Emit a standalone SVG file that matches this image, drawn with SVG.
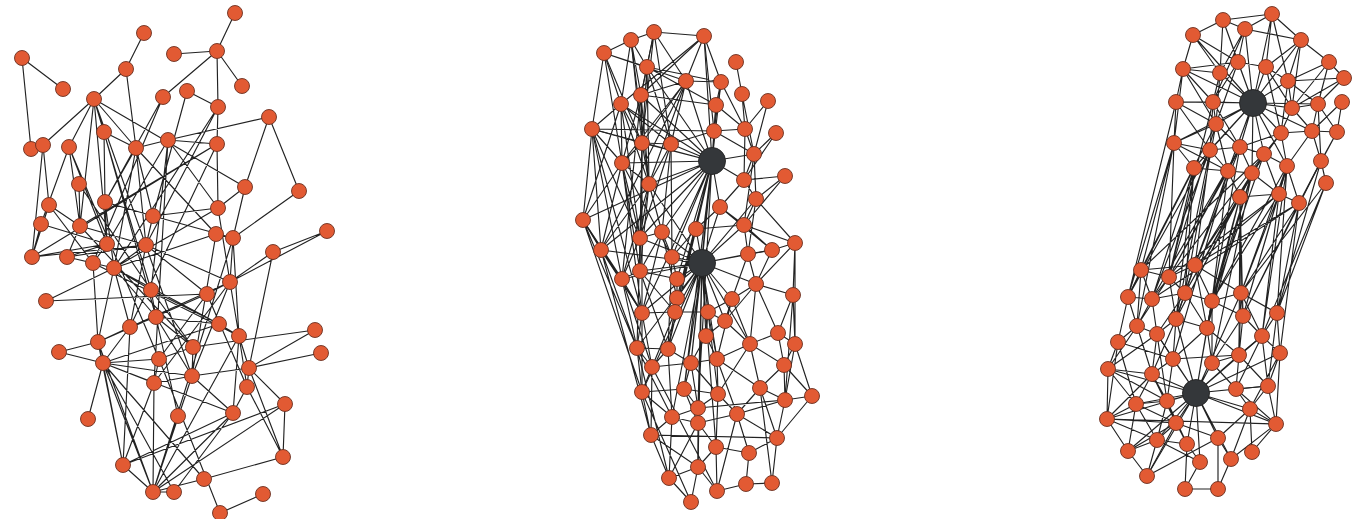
<svg xmlns="http://www.w3.org/2000/svg" width="1354" height="519" viewBox="0 0 1354 519">
<style>
.e{fill:none;stroke:#222;stroke-width:1.15;stroke-linecap:round}
.n circle{fill:#e25a33;stroke:#6b3020;stroke-width:0.9}
.h circle{fill:#34373a;stroke:#222;stroke-width:0.9}
</style>
<rect width="1354" height="519" fill="#fff"/>
<g id="connectors">
<path class="e" d="M235,13L217,51M174,54L217,51M217,51L242,86M217,51L218,107M217,51L163,97M144,33L126,69M126,69L94,99M126,69L136,148M22,58L63,89M22,58L31,149M94,99L43,145M94,99L69,147M94,99L104,132M94,99L136,148M94,99L245,187M94,99L80,226M94,99L107,244M94,99L192,376M94,99L151,290M187,91L218,107M187,91L153,216M163,97L105,202M163,97L93,263M218,107L217,144M218,107L146,245M218,107L114,268M269,117L168,140M269,117L299,191M269,117L245,187M168,140L217,144M168,140L136,148M168,140L218,208M168,140L107,244M168,140L151,290M168,140L154,383M104,132L136,148M104,132L105,202M104,132L156,317M43,145L32,257M43,145L49,205M31,149L43,145M69,147L80,226M69,147L107,244M69,147L159,359M69,147L41,224M136,148L105,202M136,148L153,216M136,148L216,234M136,148L114,268M136,148L146,245M217,144L218,208M217,144L80,226M217,144L32,257M217,144L130,327M79,184L80,226M79,184L151,290M245,187L218,208M245,187L233,238M299,191L233,238M49,205L80,226M49,205L93,263M49,205L32,257M105,202L153,216M105,202L107,244M105,202L114,268M218,208L153,216M218,208L114,268M218,208L230,282M153,216L233,238M153,216L146,245M41,224L32,257M41,224L107,244M80,226L67,257M80,226L146,245M80,226L193,347M327,231L273,252M327,231L230,282M216,234L233,238M216,234L114,268M216,234L192,376M233,238L230,282M233,238L239,336M233,238L153,492M107,244L32,257M107,244L67,257M107,244L93,263M146,245L32,257M146,245L67,257M146,245L114,268M146,245L207,294M146,245L230,282M146,245L130,327M273,252L230,282M273,252L249,368M67,257L93,263M67,257L114,268M93,263L98,342M93,263L239,336M114,268L151,290M114,268L98,342M114,268L130,327M114,268L156,317M114,268L219,324M114,268L46,301M230,282L207,294M230,282L239,336M230,282L130,327M230,282L154,383M230,282L192,376M151,290L156,317M151,290L219,324M151,290L193,347M207,294L46,301M207,294L98,342M207,294L159,359M207,294L247,387M156,317L130,327M156,317L193,347M156,317L178,416M156,317L192,376M156,317L219,324M130,327L98,342M130,327L103,363M130,327L123,465M219,324L239,336M219,324L103,363M239,336L249,368M239,336L247,387M239,336L233,413M239,336L153,492M315,330L249,368M315,330L193,347M98,342L59,352M98,342L103,363M98,342L123,465M98,342L153,492M193,347L192,376M193,347L159,359M321,353L249,368M59,352L103,363M103,363L159,359M103,363L192,376M103,363L154,383M103,363L233,413M103,363L123,465M103,363L153,492M103,363L174,492M103,363L204,479M103,363L88,419M159,359L154,383M249,368L192,376M249,368L247,387M249,368L285,404M249,368L283,457M192,376L154,383M192,376L233,413M192,376L153,492M154,383L123,465M154,383L153,492M247,387L283,457M285,404L283,457M285,404L123,465M178,416L153,492M233,413L153,492M233,413L174,492M283,457L204,479M123,465L153,492M123,465L233,413M204,479L153,492M153,492L174,492M153,492L285,404M263,494L220,513M220,513L159,359M247,387L233,413"/>
<path class="e" d="M631,40L654,32M654,32L704,36M631,40L604,53M631,40L647,67M631,40L642,143M631,40L641,95M654,32L686,81M654,32L647,67M654,32L671,144M704,36L686,81M704,36L721,82M704,36L714,131M704,36L621,104M604,53L621,104M604,53L686,81M604,53L647,67M647,67L641,95M647,67L716,105M647,67L671,144M647,67L721,82M736,62L742,94M686,81L721,82M686,81L641,95M686,81L642,143M686,81L622,163M686,81L601,250M721,82L745,129M721,82L716,105M641,95L716,105M641,95L642,143M641,95L649,184M641,95L622,279M742,94L745,129M742,94L754,154M621,104L592,129M621,104L622,163M621,104L642,143M621,104L671,144M621,104L640,238M621,104L583,220M768,101L754,154M592,129L714,131M592,129L622,163M592,129L583,220M592,129L642,143M592,129L601,250M714,131L745,129M714,131L716,105M745,129L754,154M745,129L744,180M776,133L754,154M642,143L671,144M642,143L622,163M642,143L649,184M642,143L640,271M642,143L642,313M671,144L714,131M671,144L649,184M671,144L640,238M671,144L672,257M754,154L744,180M754,154L756,199M754,154L744,225M622,163L649,184M622,163L583,220M622,163L601,250M622,163L640,238M744,180L785,176M744,180L756,199M744,180L720,207M785,176L744,225M649,184L662,232M649,184L601,250M649,184L640,238M756,199L744,225M756,199L795,243M756,199L748,254M720,207L744,225M720,207L696,229M720,207L772,250M583,220L601,250M583,220L622,279M583,220L637,348M744,225L795,243M744,225L748,254M744,225L772,250M795,243L772,250M795,243L756,284M795,243L793,295M640,238L662,232M640,238L622,279M640,238L640,271M662,232L672,257M662,232L640,271M696,229L672,257M601,250L622,279M601,250L637,348M601,250L642,313M748,254L772,250M748,254L756,284M748,254L732,299M772,250L756,284M672,257L677,279M622,279L640,271M622,279L642,313M622,279L637,348M640,271L677,279M640,271L675,312M677,279L677,298M756,284L732,299M756,284L793,295M756,284L778,333M756,284L750,344M793,295L778,333M793,295L795,344M677,298L675,312M677,298L668,349M732,299L725,321M732,299L750,344M732,299L717,359M642,313L675,312M642,313L637,348M642,313L652,367M675,312L708,312M675,312L668,349M708,312L725,321M708,312L706,336M725,321L706,336M725,321L750,344M778,333L795,344M778,333L784,365M706,336L691,363M706,336L717,359M750,344L784,365M750,344L760,388M750,344L717,359M795,344L784,365M795,344L812,396M637,348L668,349M637,348L652,367M637,348L642,392M668,349L691,363M668,349L652,367M691,363L717,359M691,363L684,389M691,363L718,394M717,359L718,394M717,359L737,414M652,367L642,392M652,367L691,363M784,365L785,400M784,365L812,396M642,392L684,389M642,392L672,417M642,392L651,435M684,389L698,408M684,389L718,394M718,394L698,408M718,394L737,414M760,388L785,400M760,388L737,414M812,396L785,400M785,400L777,438M785,400L698,408M698,408L672,417M698,408L698,423M672,417L698,423M672,417L651,435M698,423L737,414M698,423L716,447M737,414L777,438M737,414L749,453M651,435L777,438M651,435L698,467M651,435L669,478M777,438L749,453M777,438L772,483M716,447L698,467M716,447L717,491M749,453L746,484M698,467L669,478M698,467L691,502M669,478L691,502M717,491L746,484M672,417L669,478M698,423L698,467M604,53L622,163M592,129L642,313M583,220L642,392M601,250L651,435M637,348L669,478M642,392L691,502M812,396L777,438M760,388L772,483M652,367L717,491M793,295L785,400M795,243L795,344"/>
<path class="e" d="M631,40L649,184M604,53L642,143M647,67L649,184M654,32L641,95M621,104L649,184M592,129L640,238M592,129L622,279M622,163L642,313M622,163L640,271M642,143L640,238M641,95L622,163M647,67L642,143M686,81L649,184M604,53L592,129M649,184L622,279M583,220L642,313M640,238L637,348M662,232L642,313M622,279L652,367M642,313L642,392M637,348L672,417M652,367L651,435M640,271L668,349M662,232L677,298M672,257L668,349M671,144L662,232M768,101L745,129M776,133L744,180M785,176L756,199M716,105L745,129M714,131L754,154M696,229L744,225M732,299L708,312M756,284L725,321M750,344L718,394M717,359L760,388M784,365L760,388M785,400L737,414M760,388L777,438M749,453L716,447M746,484L772,483M717,491L698,467M778,333L750,344M795,344L785,400M631,40L621,104M654,32L642,143M704,36L641,95M686,81L671,144M721,82L714,131M622,163L672,257M649,184L640,271M668,349L672,417M691,363L698,408M684,389L698,423M718,394L716,447M737,414L717,491M698,423L669,478M675,312L652,367M708,312L717,359"/>
<path class="e" d="M712,161L704,36M712,161L686,81M712,161L721,82M712,161L716,105M712,161L714,131M712,161L642,143M712,161L671,144M712,161L622,163M712,161L649,184M712,161L720,207M712,161L696,229M712,161L672,257M712,161L592,129M712,161L621,104M712,161L641,95M712,161L677,279M712,161L677,298M712,161L675,312M712,161L668,349M712,161L691,363M712,161L744,180M712,161L754,154M712,161L702,263M712,161L640,238M712,161L662,232M712,161L642,313M712,161L684,389M712,161L698,408M712,161L647,67M712,161L583,220M712,161L601,250M702,263L640,238M702,263L662,232M702,263L696,229M702,263L672,257M702,263L622,279M702,263L640,271M702,263L677,279M702,263L677,298M702,263L732,299M702,263L642,313M702,263L675,312M702,263L708,312M702,263L725,321M702,263L706,336M702,263L668,349M702,263L691,363M702,263L717,359M702,263L684,389M702,263L718,394M702,263L698,408M702,263L698,423M702,263L642,392M702,263L748,254M702,263L772,250M702,263L756,284M702,263L720,207M702,263L744,225M702,263L649,184M702,263L601,250M702,263L716,447M702,263L698,467M702,263L672,417M702,263L756,199M702,263L637,348M702,263L750,344"/>
<path class="e" d="M1223,20L1272,14M1223,20L1245,29M1223,20L1193,35M1223,20L1220,73M1223,20L1238,62M1223,20L1253,103M1272,14L1245,29M1272,14L1301,40M1272,14L1266,67M1272,14L1253,103M1272,14L1288,81M1245,29L1238,62M1245,29L1301,40M1245,29L1253,103M1245,29L1220,73M1245,29L1213,102M1193,35L1238,62M1193,35L1220,73M1193,35L1183,69M1301,40L1329,62M1301,40L1288,81M1301,40L1292,108M1301,40L1266,67M1329,62L1344,78M1329,62L1288,81M1329,62L1318,104M1238,62L1266,67M1238,62L1253,103M1238,62L1183,69M1238,62L1213,102M1238,62L1216,124M1266,67L1253,103M1266,67L1288,81M1266,67L1292,108M1183,69L1220,73M1183,69L1176,102M1183,69L1213,102M1183,69L1253,103M1220,73L1213,102M1220,73L1253,103M1220,73L1216,124M1344,78L1288,81M1344,78L1292,108M1288,81L1253,103M1288,81L1292,108M1288,81L1281,133M1176,102L1213,102M1176,102L1174,143M1176,102L1216,124M1176,102L1253,103M1213,102L1253,103M1213,102L1216,124M1213,102L1210,150M1213,102L1240,147M1292,108L1253,103M1292,108L1318,104M1292,108L1281,133M1318,104L1312,131M1318,104L1321,161M1342,102L1337,132M1216,124L1253,103M1216,124L1174,143M1216,124L1240,147M1216,124L1228,171M1281,133L1253,103M1281,133L1312,131M1281,133L1264,154M1281,133L1287,166M1312,131L1337,132M1312,131L1321,161M1312,131L1287,166M1337,132L1321,161M1337,132L1299,203M1174,143L1210,150M1174,143L1194,168M1210,150L1240,147M1210,150L1253,103M1210,150L1228,171M1240,147L1253,103M1240,147L1264,154M1240,147L1252,173M1264,154L1253,103M1264,154L1287,166M1264,154L1252,173M1321,161L1326,183M1321,161L1299,203M1287,166L1279,194M1287,166L1299,203M1194,168L1228,171M1194,168L1253,103M1228,171L1252,173M1228,171L1253,103M1252,173L1253,103M1252,173L1240,197M1252,173L1279,194M1240,197L1279,194M1279,194L1299,203M1253,103L1174,143M1253,103L1287,166M1253,103L1318,104M1253,103L1312,131M1183,69L1216,124M1183,69L1174,143M1176,102L1210,150M1193,35L1253,103M1301,40L1253,103M1329,62L1292,108M1344,78L1318,104M1318,104L1337,132M1342,102L1312,131M1281,133L1240,147M1281,133L1252,173M1264,154L1279,194M1228,171L1240,197M1240,147L1228,171M1174,143L1228,171M1292,108L1312,131M1266,67L1281,133M1288,81L1318,104"/>
<path class="e" d="M1174,143L1141,270M1174,143L1169,277M1210,150L1195,265M1210,150L1128,297M1194,168L1141,270M1194,168L1152,299M1194,168L1169,277M1228,171L1185,293M1228,171L1169,277M1228,171L1212,301M1252,173L1195,265M1252,173L1185,293M1252,173L1176,319M1240,197L1212,301M1240,197L1241,293M1240,197L1207,328M1240,197L1195,265M1279,194L1241,293M1279,194L1243,316M1279,194L1169,277M1299,203L1277,313M1299,203L1152,299M1299,203L1195,265M1264,154L1185,293M1264,154L1212,301M1264,154L1141,270M1240,147L1195,265M1240,147L1152,299M1240,147L1207,328M1216,124L1141,270M1216,124L1185,293M1213,102L1169,277M1287,166L1241,293M1287,166L1243,316M1287,166L1262,336M1326,183L1241,293M1326,183L1277,313M1210,150L1176,319M1228,171L1173,359M1252,173L1212,363M1240,197L1239,355M1279,194L1262,336M1299,203L1280,353M1252,173L1207,328M1240,147L1212,301M1194,168L1128,297M1321,161L1277,313M1176,102L1128,297M1174,143L1128,297M1174,143L1137,326M1210,150L1152,299M1194,168L1185,293M1194,168L1176,319M1228,171L1195,265M1228,171L1176,319M1252,173L1212,301M1240,197L1243,316M1240,197L1176,319M1279,194L1195,265M1279,194L1212,301M1299,203L1241,293M1299,203L1243,316M1264,154L1169,277M1240,147L1169,277M1216,124L1169,277M1321,161L1243,316M1287,166L1277,313M1287,166L1212,301M1326,183L1262,336"/>
<path class="e" d="M1141,270L1169,277M1141,270L1195,265M1141,270L1128,297M1141,270L1152,299M1169,277L1195,265M1169,277L1185,293M1195,265L1185,293M1195,265L1212,301M1128,297L1152,299M1128,297L1137,326M1128,297L1118,342M1152,299L1185,293M1152,299L1137,326M1152,299L1157,334M1185,293L1212,301M1185,293L1176,319M1212,301L1241,293M1212,301L1207,328M1241,293L1277,313M1241,293L1243,316M1277,313L1262,336M1277,313L1280,353M1243,316L1262,336M1243,316L1239,355M1176,319L1157,334M1176,319L1207,328M1176,319L1173,359M1137,326L1157,334M1137,326L1118,342M1157,334L1173,359M1157,334L1152,374M1207,328L1212,363M1207,328L1239,355M1262,336L1280,353M1262,336L1236,389M1118,342L1108,369M1118,342L1173,359M1118,342L1136,404M1280,353L1268,386M1280,353L1276,424M1173,359L1152,374M1173,359L1239,355M1239,355L1212,363M1239,355L1236,389M1108,369L1152,374M1108,369L1136,404M1108,369L1107,419M1152,374L1136,404M1152,374L1167,401M1236,389L1268,386M1236,389L1250,409M1268,386L1276,424M1268,386L1250,409M1136,404L1167,401M1136,404L1107,419M1136,404L1157,440M1136,404L1128,451M1167,401L1176,423M1250,409L1276,424M1250,409L1218,438M1107,419L1128,451M1107,419L1176,423M1107,419L1276,424M1176,423L1218,438M1176,423L1187,444M1218,438L1231,459M1157,440L1128,451M1157,440L1147,476M1187,444L1200,462M1187,444L1185,489M1128,451L1147,476M1252,452L1276,424M1185,489L1218,489M1231,459L1218,489M1167,401L1157,440M1137,326L1108,369M1152,374L1107,419M1118,342L1107,419M1169,277L1137,326M1195,265L1207,328M1241,293L1262,336M1250,409L1252,452M1157,334L1167,401M1176,423L1128,451M1157,440L1187,444M1147,476L1218,438M1141,270L1137,326M1169,277L1176,319M1169,277L1152,299M1195,265L1241,293M1185,293L1207,328M1185,293L1157,334M1212,301L1243,316M1212,301L1212,363M1241,293L1239,355M1277,313L1268,386M1243,316L1212,363M1176,319L1152,374M1137,326L1152,374M1157,334L1108,369M1207,328L1173,359M1262,336L1268,386M1262,336L1239,355M1280,353L1250,409M1173,359L1167,401M1239,355L1268,386M1212,363L1236,389M1108,369L1167,401M1152,374L1176,423M1236,389L1276,424M1136,404L1176,423M1167,401L1187,444M1250,409L1231,459M1176,423L1157,440M1276,424L1231,459M1218,438L1218,489M1157,440L1200,462M1200,462L1185,489M1176,423L1147,476M1107,419L1157,440"/>
<path class="e" d="M1196,393L1173,359M1196,393L1239,355M1196,393L1236,389M1196,393L1268,386M1196,393L1167,401M1196,393L1250,409M1196,393L1176,423M1196,393L1218,438M1196,393L1187,444M1196,393L1200,462M1196,393L1136,404M1196,393L1207,328M1196,393L1212,363M1196,393L1157,334M1196,393L1176,319M1196,393L1107,419M1196,393L1157,440M1196,393L1231,459M1196,393L1276,424M1196,393L1152,374M1196,393L1108,369M1196,393L1128,451M1196,393L1147,476M1196,393L1262,336M1196,393L1280,353M1196,393L1241,293M1196,393L1212,301"/>
</g>
<g id="graph-left">
<g id="L1" class="n"><circle cx="235" cy="13" r="7.5"/></g>
<g id="L2" class="n"><circle cx="144" cy="33" r="7.5"/></g>
<g id="L3" class="n"><circle cx="22" cy="58" r="7.5"/></g>
<g id="L4" class="n"><circle cx="174" cy="54" r="7.5"/></g>
<g id="L5" class="n"><circle cx="217" cy="51" r="7.5"/></g>
<g id="L6" class="n"><circle cx="126" cy="69" r="7.5"/></g>
<g id="L7" class="n"><circle cx="63" cy="89" r="7.5"/></g>
<g id="L8" class="n"><circle cx="242" cy="86" r="7.5"/></g>
<g id="L9" class="n"><circle cx="94" cy="99" r="7.5"/></g>
<g id="L10" class="n"><circle cx="163" cy="97" r="7.5"/></g>
<g id="L11" class="n"><circle cx="187" cy="91" r="7.5"/></g>
<g id="L12" class="n"><circle cx="218" cy="107" r="7.5"/></g>
<g id="L13" class="n"><circle cx="269" cy="117" r="7.5"/></g>
<g id="L14" class="n"><circle cx="104" cy="132" r="7.5"/></g>
<g id="L15" class="n"><circle cx="31" cy="149" r="7.5"/></g>
<g id="L16" class="n"><circle cx="43" cy="145" r="7.5"/></g>
<g id="L17" class="n"><circle cx="69" cy="147" r="7.5"/></g>
<g id="L18" class="n"><circle cx="136" cy="148" r="7.5"/></g>
<g id="L19" class="n"><circle cx="168" cy="140" r="7.5"/></g>
<g id="L20" class="n"><circle cx="217" cy="144" r="7.5"/></g>
<g id="L21" class="n"><circle cx="79" cy="184" r="7.5"/></g>
<g id="L22" class="n"><circle cx="245" cy="187" r="7.5"/></g>
<g id="L23" class="n"><circle cx="299" cy="191" r="7.5"/></g>
<g id="L24" class="n"><circle cx="49" cy="205" r="7.5"/></g>
<g id="L25" class="n"><circle cx="105" cy="202" r="7.5"/></g>
<g id="L26" class="n"><circle cx="218" cy="208" r="7.5"/></g>
<g id="L27" class="n"><circle cx="153" cy="216" r="7.5"/></g>
<g id="L28" class="n"><circle cx="41" cy="224" r="7.5"/></g>
<g id="L29" class="n"><circle cx="80" cy="226" r="7.5"/></g>
<g id="L30" class="n"><circle cx="327" cy="231" r="7.5"/></g>
<g id="L31" class="n"><circle cx="216" cy="234" r="7.5"/></g>
<g id="L32" class="n"><circle cx="233" cy="238" r="7.5"/></g>
<g id="L33" class="n"><circle cx="107" cy="244" r="7.5"/></g>
<g id="L34" class="n"><circle cx="146" cy="245" r="7.5"/></g>
<g id="L35" class="n"><circle cx="273" cy="252" r="7.5"/></g>
<g id="L36" class="n"><circle cx="32" cy="257" r="7.5"/></g>
<g id="L37" class="n"><circle cx="67" cy="257" r="7.5"/></g>
<g id="L38" class="n"><circle cx="93" cy="263" r="7.5"/></g>
<g id="L39" class="n"><circle cx="114" cy="268" r="7.5"/></g>
<g id="L40" class="n"><circle cx="230" cy="282" r="7.5"/></g>
<g id="L41" class="n"><circle cx="151" cy="290" r="7.5"/></g>
<g id="L42" class="n"><circle cx="207" cy="294" r="7.5"/></g>
<g id="L43" class="n"><circle cx="46" cy="301" r="7.5"/></g>
<g id="L44" class="n"><circle cx="156" cy="317" r="7.5"/></g>
<g id="L45" class="n"><circle cx="130" cy="327" r="7.5"/></g>
<g id="L46" class="n"><circle cx="219" cy="324" r="7.5"/></g>
<g id="L47" class="n"><circle cx="239" cy="336" r="7.5"/></g>
<g id="L48" class="n"><circle cx="315" cy="330" r="7.5"/></g>
<g id="L49" class="n"><circle cx="98" cy="342" r="7.5"/></g>
<g id="L50" class="n"><circle cx="193" cy="347" r="7.5"/></g>
<g id="L51" class="n"><circle cx="321" cy="353" r="7.5"/></g>
<g id="L52" class="n"><circle cx="59" cy="352" r="7.5"/></g>
<g id="L53" class="n"><circle cx="103" cy="363" r="7.5"/></g>
<g id="L54" class="n"><circle cx="159" cy="359" r="7.5"/></g>
<g id="L55" class="n"><circle cx="249" cy="368" r="7.5"/></g>
<g id="L56" class="n"><circle cx="192" cy="376" r="7.5"/></g>
<g id="L57" class="n"><circle cx="154" cy="383" r="7.5"/></g>
<g id="L58" class="n"><circle cx="247" cy="387" r="7.5"/></g>
<g id="L59" class="n"><circle cx="285" cy="404" r="7.5"/></g>
<g id="L60" class="n"><circle cx="178" cy="416" r="7.5"/></g>
<g id="L61" class="n"><circle cx="233" cy="413" r="7.5"/></g>
<g id="L62" class="n"><circle cx="88" cy="419" r="7.5"/></g>
<g id="L63" class="n"><circle cx="283" cy="457" r="7.5"/></g>
<g id="L64" class="n"><circle cx="123" cy="465" r="7.5"/></g>
<g id="L65" class="n"><circle cx="204" cy="479" r="7.5"/></g>
<g id="L66" class="n"><circle cx="153" cy="492" r="7.5"/></g>
<g id="L67" class="n"><circle cx="174" cy="492" r="7.5"/></g>
<g id="L68" class="n"><circle cx="263" cy="494" r="7.5"/></g>
<g id="L69" class="n"><circle cx="220" cy="513" r="7.5"/></g>
</g>
<g id="graph-middle">
<g id="M1" class="n"><circle cx="654" cy="32" r="7.5"/></g>
<g id="M2" class="n"><circle cx="631" cy="40" r="7.5"/></g>
<g id="M3" class="n"><circle cx="704" cy="36" r="7.5"/></g>
<g id="M4" class="n"><circle cx="604" cy="53" r="7.5"/></g>
<g id="M5" class="n"><circle cx="647" cy="67" r="7.5"/></g>
<g id="M6" class="n"><circle cx="736" cy="62" r="7.5"/></g>
<g id="M7" class="n"><circle cx="686" cy="81" r="7.5"/></g>
<g id="M8" class="n"><circle cx="721" cy="82" r="7.5"/></g>
<g id="M9" class="n"><circle cx="641" cy="95" r="7.5"/></g>
<g id="M10" class="n"><circle cx="742" cy="94" r="7.5"/></g>
<g id="M11" class="n"><circle cx="621" cy="104" r="7.5"/></g>
<g id="M12" class="n"><circle cx="716" cy="105" r="7.5"/></g>
<g id="M13" class="n"><circle cx="768" cy="101" r="7.5"/></g>
<g id="M14" class="n"><circle cx="592" cy="129" r="7.5"/></g>
<g id="M15" class="n"><circle cx="714" cy="131" r="7.5"/></g>
<g id="M16" class="n"><circle cx="745" cy="129" r="7.5"/></g>
<g id="M17" class="n"><circle cx="776" cy="133" r="7.5"/></g>
<g id="M18" class="n"><circle cx="642" cy="143" r="7.5"/></g>
<g id="M19" class="n"><circle cx="671" cy="144" r="7.5"/></g>
<g id="H1" class="h"><circle cx="712" cy="161" r="13.5"/></g>
<g id="M20" class="n"><circle cx="754" cy="154" r="7.5"/></g>
<g id="M21" class="n"><circle cx="622" cy="163" r="7.5"/></g>
<g id="M22" class="n"><circle cx="744" cy="180" r="7.5"/></g>
<g id="M23" class="n"><circle cx="785" cy="176" r="7.5"/></g>
<g id="M24" class="n"><circle cx="649" cy="184" r="7.5"/></g>
<g id="M25" class="n"><circle cx="756" cy="199" r="7.5"/></g>
<g id="M26" class="n"><circle cx="720" cy="207" r="7.5"/></g>
<g id="M27" class="n"><circle cx="583" cy="220" r="7.5"/></g>
<g id="M28" class="n"><circle cx="744" cy="225" r="7.5"/></g>
<g id="M29" class="n"><circle cx="795" cy="243" r="7.5"/></g>
<g id="M30" class="n"><circle cx="640" cy="238" r="7.5"/></g>
<g id="M31" class="n"><circle cx="662" cy="232" r="7.5"/></g>
<g id="M32" class="n"><circle cx="696" cy="229" r="7.5"/></g>
<g id="M33" class="n"><circle cx="601" cy="250" r="7.5"/></g>
<g id="M34" class="n"><circle cx="748" cy="254" r="7.5"/></g>
<g id="M35" class="n"><circle cx="772" cy="250" r="7.5"/></g>
<g id="M36" class="n"><circle cx="672" cy="257" r="7.5"/></g>
<g id="H2" class="h"><circle cx="702" cy="263" r="13.5"/></g>
<g id="M37" class="n"><circle cx="622" cy="279" r="7.5"/></g>
<g id="M38" class="n"><circle cx="640" cy="271" r="7.5"/></g>
<g id="M39" class="n"><circle cx="677" cy="279" r="7.5"/></g>
<g id="M40" class="n"><circle cx="756" cy="284" r="7.5"/></g>
<g id="M41" class="n"><circle cx="793" cy="295" r="7.5"/></g>
<g id="M42" class="n"><circle cx="677" cy="298" r="7.5"/></g>
<g id="M43" class="n"><circle cx="732" cy="299" r="7.5"/></g>
<g id="M44" class="n"><circle cx="642" cy="313" r="7.5"/></g>
<g id="M45" class="n"><circle cx="675" cy="312" r="7.5"/></g>
<g id="M46" class="n"><circle cx="708" cy="312" r="7.5"/></g>
<g id="M47" class="n"><circle cx="725" cy="321" r="7.5"/></g>
<g id="M48" class="n"><circle cx="778" cy="333" r="7.5"/></g>
<g id="M49" class="n"><circle cx="706" cy="336" r="7.5"/></g>
<g id="M50" class="n"><circle cx="750" cy="344" r="7.5"/></g>
<g id="M51" class="n"><circle cx="795" cy="344" r="7.5"/></g>
<g id="M52" class="n"><circle cx="637" cy="348" r="7.5"/></g>
<g id="M53" class="n"><circle cx="668" cy="349" r="7.5"/></g>
<g id="M54" class="n"><circle cx="691" cy="363" r="7.5"/></g>
<g id="M55" class="n"><circle cx="717" cy="359" r="7.5"/></g>
<g id="M56" class="n"><circle cx="652" cy="367" r="7.5"/></g>
<g id="M57" class="n"><circle cx="784" cy="365" r="7.5"/></g>
<g id="M58" class="n"><circle cx="642" cy="392" r="7.5"/></g>
<g id="M59" class="n"><circle cx="684" cy="389" r="7.5"/></g>
<g id="M60" class="n"><circle cx="718" cy="394" r="7.5"/></g>
<g id="M61" class="n"><circle cx="760" cy="388" r="7.5"/></g>
<g id="M62" class="n"><circle cx="812" cy="396" r="7.5"/></g>
<g id="M63" class="n"><circle cx="785" cy="400" r="7.5"/></g>
<g id="M64" class="n"><circle cx="698" cy="408" r="7.5"/></g>
<g id="M65" class="n"><circle cx="672" cy="417" r="7.5"/></g>
<g id="M66" class="n"><circle cx="698" cy="423" r="7.5"/></g>
<g id="M67" class="n"><circle cx="737" cy="414" r="7.5"/></g>
<g id="M68" class="n"><circle cx="651" cy="435" r="7.5"/></g>
<g id="M69" class="n"><circle cx="777" cy="438" r="7.5"/></g>
<g id="M70" class="n"><circle cx="716" cy="447" r="7.5"/></g>
<g id="M71" class="n"><circle cx="749" cy="453" r="7.5"/></g>
<g id="M72" class="n"><circle cx="698" cy="467" r="7.5"/></g>
<g id="M73" class="n"><circle cx="669" cy="478" r="7.5"/></g>
<g id="M74" class="n"><circle cx="717" cy="491" r="7.5"/></g>
<g id="M75" class="n"><circle cx="746" cy="484" r="7.5"/></g>
<g id="M76" class="n"><circle cx="772" cy="483" r="7.5"/></g>
<g id="M77" class="n"><circle cx="691" cy="502" r="7.5"/></g>
</g>
<g id="graph-right">
<g id="R1" class="n"><circle cx="1223" cy="20" r="7.5"/></g>
<g id="R2" class="n"><circle cx="1272" cy="14" r="7.5"/></g>
<g id="R3" class="n"><circle cx="1245" cy="29" r="7.5"/></g>
<g id="R4" class="n"><circle cx="1193" cy="35" r="7.5"/></g>
<g id="R5" class="n"><circle cx="1301" cy="40" r="7.5"/></g>
<g id="R6" class="n"><circle cx="1329" cy="62" r="7.5"/></g>
<g id="R7" class="n"><circle cx="1238" cy="62" r="7.5"/></g>
<g id="R8" class="n"><circle cx="1266" cy="67" r="7.5"/></g>
<g id="R9" class="n"><circle cx="1183" cy="69" r="7.5"/></g>
<g id="R10" class="n"><circle cx="1220" cy="73" r="7.5"/></g>
<g id="R11" class="n"><circle cx="1344" cy="78" r="7.5"/></g>
<g id="R12" class="n"><circle cx="1288" cy="81" r="7.5"/></g>
<g id="H3" class="h"><circle cx="1253" cy="103" r="13.5"/></g>
<g id="R13" class="n"><circle cx="1176" cy="102" r="7.5"/></g>
<g id="R14" class="n"><circle cx="1213" cy="102" r="7.5"/></g>
<g id="R15" class="n"><circle cx="1292" cy="108" r="7.5"/></g>
<g id="R16" class="n"><circle cx="1318" cy="104" r="7.5"/></g>
<g id="R17" class="n"><circle cx="1342" cy="102" r="7.5"/></g>
<g id="R18" class="n"><circle cx="1216" cy="124" r="7.5"/></g>
<g id="R19" class="n"><circle cx="1281" cy="133" r="7.5"/></g>
<g id="R20" class="n"><circle cx="1312" cy="131" r="7.5"/></g>
<g id="R21" class="n"><circle cx="1337" cy="132" r="7.5"/></g>
<g id="R22" class="n"><circle cx="1174" cy="143" r="7.5"/></g>
<g id="R23" class="n"><circle cx="1210" cy="150" r="7.5"/></g>
<g id="R24" class="n"><circle cx="1240" cy="147" r="7.5"/></g>
<g id="R25" class="n"><circle cx="1264" cy="154" r="7.5"/></g>
<g id="R26" class="n"><circle cx="1321" cy="161" r="7.5"/></g>
<g id="R27" class="n"><circle cx="1287" cy="166" r="7.5"/></g>
<g id="R28" class="n"><circle cx="1194" cy="168" r="7.5"/></g>
<g id="R29" class="n"><circle cx="1228" cy="171" r="7.5"/></g>
<g id="R30" class="n"><circle cx="1252" cy="173" r="7.5"/></g>
<g id="R31" class="n"><circle cx="1326" cy="183" r="7.5"/></g>
<g id="R32" class="n"><circle cx="1240" cy="197" r="7.5"/></g>
<g id="R33" class="n"><circle cx="1279" cy="194" r="7.5"/></g>
<g id="R34" class="n"><circle cx="1299" cy="203" r="7.5"/></g>
<g id="R35" class="n"><circle cx="1141" cy="270" r="7.5"/></g>
<g id="R36" class="n"><circle cx="1169" cy="277" r="7.5"/></g>
<g id="R37" class="n"><circle cx="1195" cy="265" r="7.5"/></g>
<g id="R38" class="n"><circle cx="1128" cy="297" r="7.5"/></g>
<g id="R39" class="n"><circle cx="1152" cy="299" r="7.5"/></g>
<g id="R40" class="n"><circle cx="1185" cy="293" r="7.5"/></g>
<g id="R41" class="n"><circle cx="1212" cy="301" r="7.5"/></g>
<g id="R42" class="n"><circle cx="1241" cy="293" r="7.5"/></g>
<g id="R43" class="n"><circle cx="1277" cy="313" r="7.5"/></g>
<g id="R44" class="n"><circle cx="1243" cy="316" r="7.5"/></g>
<g id="R45" class="n"><circle cx="1176" cy="319" r="7.5"/></g>
<g id="R46" class="n"><circle cx="1137" cy="326" r="7.5"/></g>
<g id="R47" class="n"><circle cx="1157" cy="334" r="7.5"/></g>
<g id="R48" class="n"><circle cx="1207" cy="328" r="7.5"/></g>
<g id="R49" class="n"><circle cx="1262" cy="336" r="7.5"/></g>
<g id="R50" class="n"><circle cx="1118" cy="342" r="7.5"/></g>
<g id="R51" class="n"><circle cx="1280" cy="353" r="7.5"/></g>
<g id="R52" class="n"><circle cx="1173" cy="359" r="7.5"/></g>
<g id="R53" class="n"><circle cx="1239" cy="355" r="7.5"/></g>
<g id="R54" class="n"><circle cx="1212" cy="363" r="7.5"/></g>
<g id="R55" class="n"><circle cx="1108" cy="369" r="7.5"/></g>
<g id="R56" class="n"><circle cx="1152" cy="374" r="7.5"/></g>
<g id="H4" class="h"><circle cx="1196" cy="393" r="13.5"/></g>
<g id="R57" class="n"><circle cx="1236" cy="389" r="7.5"/></g>
<g id="R58" class="n"><circle cx="1268" cy="386" r="7.5"/></g>
<g id="R59" class="n"><circle cx="1136" cy="404" r="7.5"/></g>
<g id="R60" class="n"><circle cx="1167" cy="401" r="7.5"/></g>
<g id="R61" class="n"><circle cx="1250" cy="409" r="7.5"/></g>
<g id="R62" class="n"><circle cx="1107" cy="419" r="7.5"/></g>
<g id="R63" class="n"><circle cx="1176" cy="423" r="7.5"/></g>
<g id="R64" class="n"><circle cx="1276" cy="424" r="7.5"/></g>
<g id="R65" class="n"><circle cx="1218" cy="438" r="7.5"/></g>
<g id="R66" class="n"><circle cx="1157" cy="440" r="7.5"/></g>
<g id="R67" class="n"><circle cx="1187" cy="444" r="7.5"/></g>
<g id="R68" class="n"><circle cx="1128" cy="451" r="7.5"/></g>
<g id="R69" class="n"><circle cx="1200" cy="462" r="7.5"/></g>
<g id="R70" class="n"><circle cx="1231" cy="459" r="7.5"/></g>
<g id="R71" class="n"><circle cx="1252" cy="452" r="7.5"/></g>
<g id="R72" class="n"><circle cx="1147" cy="476" r="7.5"/></g>
<g id="R73" class="n"><circle cx="1185" cy="489" r="7.5"/></g>
<g id="R74" class="n"><circle cx="1218" cy="489" r="7.5"/></g>
</g>
</svg>
